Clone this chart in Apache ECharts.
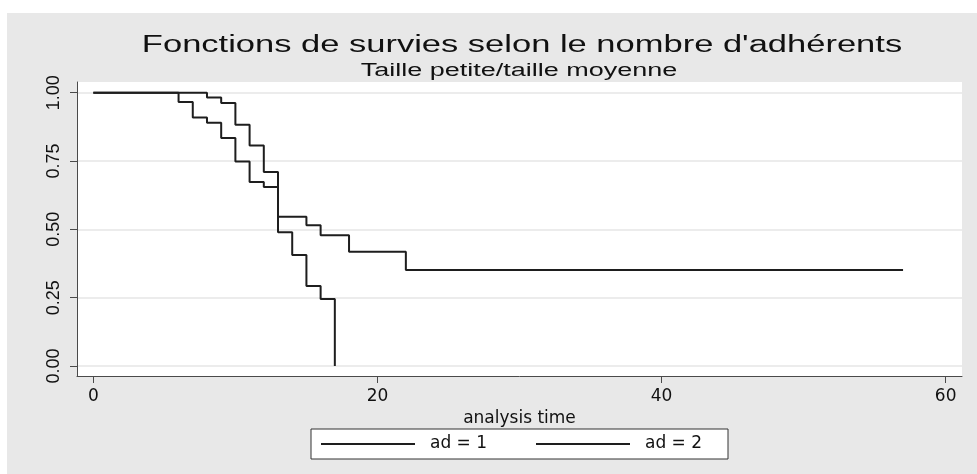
<!DOCTYPE html>
<html>
<head>
<meta charset="utf-8">
<title>Fonctions de survies</title>
<script src="https://cdn.jsdelivr.net/npm/echarts@6/dist/echarts.min.js"></script>
<style>
  html, body { margin: 0; padding: 0; background: #fff; }
  #chart { position: absolute; left: 7px; top: 13px; width: 970px; height: 461px; }
</style>
</head>
<body>
<div id="chart"></div>
<script>
// Kaplan-Meier steps (time, survival after the drop)
const timesAd1 = [0, 8, 9, 10, 11, 12, 13, 15, 16, 18, 22, 57];
const survAd1 = [1, 0.982, 0.962, 0.883, 0.807, 0.710, 0.546, 0.515, 0.478, 0.418, 0.351, 0.351];
const timesAd2 = [0, 6, 7, 8, 9, 10, 11, 12, 13, 14, 15, 16, 17];
const survAd2 = [1, 0.966, 0.909, 0.890, 0.834, 0.748, 0.673, 0.655, 0.489, 0.406, 0.293, 0.245, 0];

const seriesNames = ['ad = 1', 'ad = 2'];
const xTicks = [0, 20, 40, 60];
const yTicks = [0, 0.25, 0.5, 0.75, 1];
const yTickLabels = ['0.00', '0.25', '0.50', '0.75', '1.00'];

const titleText = "Fonctions de survies selon le nombre d'adhérents";
const subtitleText = 'Taille petite/taille moyenne';
const xName = 'analysis time';

const toPairs = (ts, ss) => ts.map((t, i) => [t, ss[i]]);

const lineColor = '#1e1e1e';
const axisColor = '#4a4a4a';
const labelFont = 'DejaVu Sans';

const chart = echarts.init(document.getElementById('chart'));

chart.setOption({
  backgroundColor: '#e8e8e8',
  animation: false,
  graphic: [
    {
      type: 'text', x: 515, y: 33, scaleX: 1.5,
      style: { text: titleText, font: '23px "Liberation Sans", Arial', fill: '#111',
               textAlign: 'center', textVerticalAlign: 'middle' }
    },
    {
      type: 'text', x: 512, y: 58, scaleX: 1.5,
      style: { text: subtitleText, font: '18px "Liberation Sans", Arial', fill: '#111',
               textAlign: 'center', textVerticalAlign: 'middle' }
    }
  ],
  legend: {
    left: 304,
    top: 416,
    orient: 'horizontal',
    padding: [5, 16, 5, 10],
    itemGap: 39,
    itemWidth: 94,
    itemHeight: 2,
    icon: 'rect',
    backgroundColor: '#fff',
    borderColor: '#333',
    borderWidth: 1,
    borderRadius: 0,
    selectedMode: false,
    textStyle: {
      fontFamily: labelFont, fontSize: 17, color: '#111',
      width: 67, lineHeight: 20, padding: [0, 0, 0, 10]
    },
    data: seriesNames
  },
  grid: {
    left: 70, right: 15, top: 69, bottom: 98,
    show: true, backgroundColor: '#fff', borderWidth: 0
  },
  xAxis: {
    type: 'value',
    min: -1.15,
    max: 61.15,
    name: xName,
    nameLocation: 'middle',
    nameGap: 22,
    nameTextStyle: { fontFamily: labelFont, fontSize: 17, color: '#111' },
    axisLine: { show: true, onZero: false, lineStyle: { color: axisColor, width: 1 } },
    axisTick: { show: true, length: 7, customValues: xTicks, lineStyle: { color: axisColor } },
    axisLabel: { customValues: xTicks, margin: 12, fontFamily: labelFont, fontSize: 17, color: '#111' },
    splitLine: { show: false }
  },
  yAxis: {
    type: 'value',
    min: -0.0365,
    max: 1.039,
    axisLine: { show: true, onZero: false, lineStyle: { color: axisColor, width: 1 } },
    axisTick: { show: true, length: 7, customValues: yTicks, lineStyle: { color: axisColor } },
    axisLabel: {
      customValues: yTicks,
      rotate: 90,
      margin: 14,
      fontFamily: '"Liberation Sans", Arial',
      fontSize: 18,
      color: '#111',
      formatter: v => yTickLabels[yTicks.indexOf(v)] ?? ''
    },
    splitLine: { show: true, lineStyle: { color: '#e6e6e6', width: 1.5 } }
  },
  series: [
    {
      name: seriesNames[0], type: 'line', step: 'end', symbol: 'none',
      data: toPairs(timesAd1, survAd1),
      lineStyle: { color: lineColor, width: 2 }, itemStyle: { color: lineColor }
    },
    {
      name: seriesNames[1], type: 'line', step: 'end', symbol: 'none',
      data: toPairs(timesAd2, survAd2),
      lineStyle: { color: lineColor, width: 2 }, itemStyle: { color: lineColor }
    }
  ]
});
</script>
</body>
</html>
